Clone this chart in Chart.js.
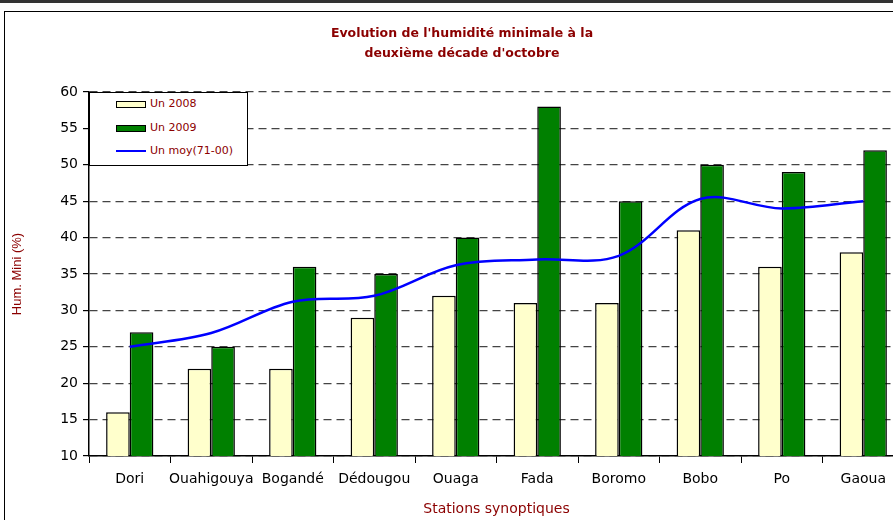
<!DOCTYPE html>
<html lang="fr">
<head>
<meta charset="UTF-8">
<title>Humidité minimale</title>
<script src="https://cdn.jsdelivr.net/npm/chart.js@4.4.0/dist/chart.umd.min.js"></script>
<style>
  html, body { margin: 0; padding: 0; background: #fff; overflow: hidden; width: 893px; height: 520px; }
  #topline { position: absolute; left: 0; top: 0; width: 893px; height: 3px; background: #333; }
  #frame { position: absolute; left: 4px; top: 11px; width: 1000px; height: 600px; border: 1px solid #000; }
  #wrap { position: absolute; left: 0; top: 0; width: 912px; height: 520px; }
  #title { position: absolute; left: 262px; width: 400px; top: 23px; text-align: center;
           font: bold 12.5px "DejaVu Sans"; color: #8b0000; line-height: 20px; }
  #legend { position: absolute; left: 89px; top: 92px; width: 157px; height: 72px;
            border: 1px solid #000; background: #fff; font: 11px "DejaVu Sans"; color: #8b0000; }
  .item { position: absolute; left: 26px; height: 14px; }
  .sw { position: absolute; left: 0; top: 4px; width: 28px; height: 5px; border: 1px solid #000; }
  .ln { position: absolute; left: 0; top: 6px; width: 30px; height: 2px; background: #0000ff; }
  .tx { position: absolute; left: 34px; top: 0; white-space: nowrap; }
</style>
</head>
<body>
<div id="topline"></div>
<div id="frame"></div>
<div id="wrap"><canvas id="chart" width="912" height="520"></canvas></div>
<div id="title">Evolution de l'humidité minimale à la<br>deuxième décade d'octobre</div>
<div id="legend">
  <div class="item" style="top:4px"><div class="sw" style="background:#ffffcc"></div><span class="tx">Un 2008</span></div>
  <div class="item" style="top:28px"><div class="sw" style="background:#008000"></div><span class="tx">Un 2009</span></div>
  <div class="item" style="top:51px"><div class="ln"></div><span class="tx">Un moy(71-00)</span></div>
</div>
<script>
  const stations = ["Dori", "Ouahigouya", "Bogandé", "Dédougou", "Ouaga", "Fada", "Boromo", "Bobo", "Po", "Gaoua"];
  const un2008 = [16, 22, 22, 29, 32, 31, 31, 41, 36, 38];
  const un2009 = [27, 25, 36, 35, 40, 58, 45, 50, 49, 52];
  const unMoy = [25, 26.9, 31.2, 32, 36.2, 37, 37.5, 45.3, 44, 45];
  const yMin = 10, yMax = 60, yStep = 5;

  const red = "#8b0000";
  const tickFont = { family: "DejaVu Sans", size: 14 };

  new Chart(document.getElementById("chart"), {
    type: "bar",
    data: {
      labels: stations,
      datasets: [
        {
          type: "line",
          label: "Un moy(71-00)",
          data: unMoy,
          borderColor: "#0000ff",
          borderWidth: 2.5,
          pointRadius: 0,
          tension: 0.35,
          order: 0
        },
        {
          label: "Un 2008",
          data: un2008,
          backgroundColor: "#ffffcc",
          borderColor: "#000",
          borderWidth: 1.5,
          categoryPercentage: 0.58,
          barPercentage: 1.0,
          order: 1
        },
        {
          label: "Un 2009",
          data: un2009,
          backgroundColor: "#008000",
          borderColor: "#000",
          borderWidth: 1.5,
          categoryPercentage: 0.58,
          barPercentage: 1.0,
          order: 1
        }
      ]
    },
    options: {
      responsive: false,
      animation: false,
      devicePixelRatio: 1,
      layout: { padding: { left: 0, top: 92, right: 8, bottom: 0 } },
      plugins: { legend: { display: false }, tooltip: { enabled: false } },
      scales: {
        x: {
          grid: { offset: true, drawOnChartArea: false, tickLength: 7, color: "#000" },
          border: { color: "#000", width: 1.5 },
          ticks: { color: "#000", font: tickFont, padding: 8, maxRotation: 0, autoSkip: false },
          title: { display: true, text: "Stations synoptiques", color: red,
                   font: { family: "DejaVu Sans", size: 14 }, padding: { top: 0, bottom: 2 } },
          afterFit: (s) => { s.height = 64; }
        },
        y: {
          min: yMin,
          max: yMax,
          grid: { color: "#444", lineWidth: 1.2, tickLength: 6, tickColor: "#000", tickBorderDash: [] },
          border: { color: "#000", width: 1.5, dash: [8, 5] },
          ticks: { stepSize: yStep, color: "#000", font: tickFont, padding: 5 },
          title: { display: true, text: "Hum. Mini (%)", color: red,
                   font: { family: "Liberation Sans", size: 13 }, padding: { top: 10, bottom: 0 } },
          afterFit: (s) => { s.width = 89; }
        }
      }
    }
  });
</script>
</body>
</html>
